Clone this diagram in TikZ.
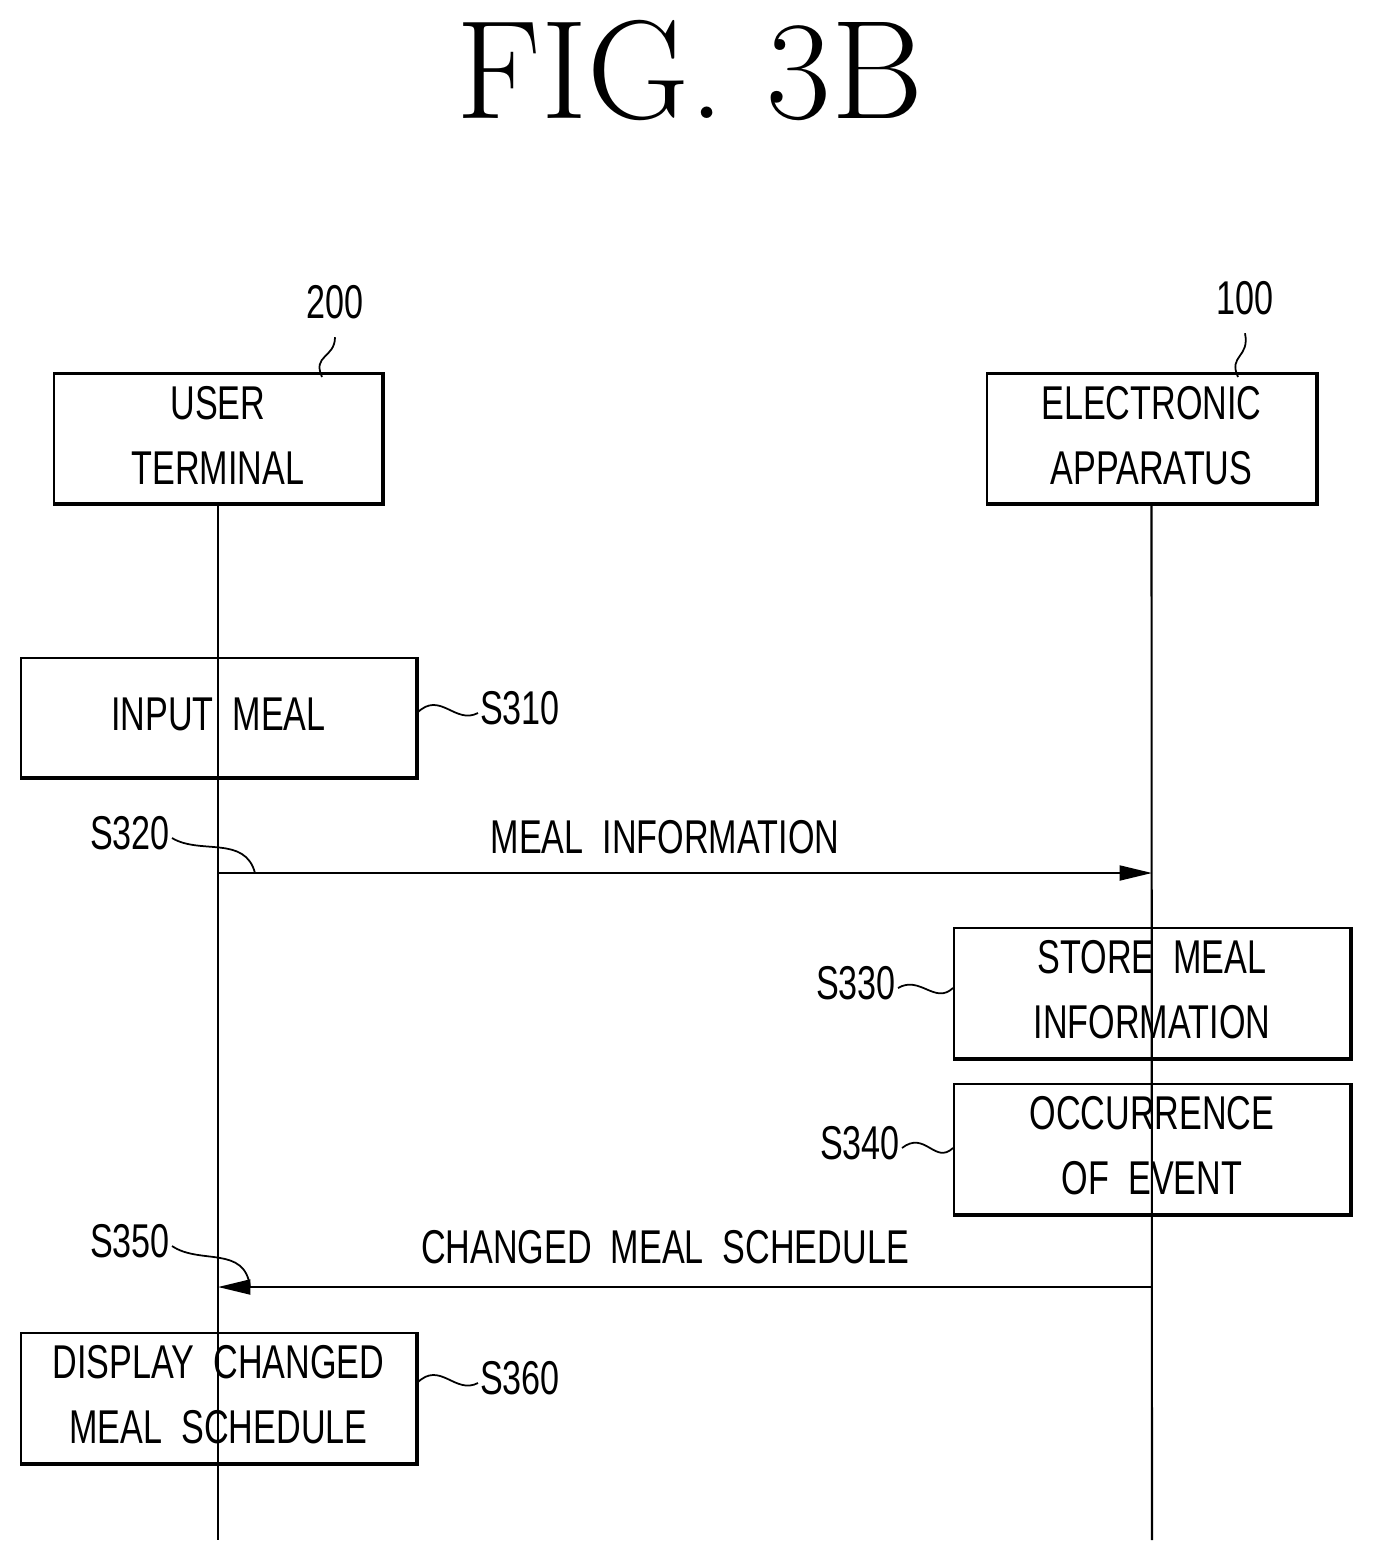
\documentclass[tikz,border=0pt]{standalone}
\usepackage{fontspec}
\setsansfont{Liberation Sans}
\usetikzlibrary{arrows.meta,positioning,calc}
\newcommand{\narrow}[1]{\scalebox{0.72}[1]{\begin{tabular}{@{}c@{}}#1\end{tabular}}}
\tikzset{
  box/.style={draw, line width=1.2pt, minimum height=2.38cm, inner sep=0pt,
    font=\sffamily\fontsize{27}{37}\selectfont},
  tag/.style={font=\sffamily\fontsize{27}{32}\selectfont, inner sep=1pt},
  msg/.style={line width=1.2pt, -{Triangle[length=0.65cm, width=0.3cm]}},
}
% draws a box with its heavier bottom/right shadow
\newcommand{\shbox}[5]{%
  \node[box, minimum width=#4cm] (#1) at (#2,#3) {\narrow{#5}};
  \draw[line width=2.2pt] ($(#1.south west)+(0.14,-0.05)$) -- ($(#1.south east)+(0.05,-0.05)$)
    -- ($(#1.north east)+(0.05,-0.14)$);}
\begin{document}
\begin{tikzpicture}[x=0.02cm, y=-0.02cm]
  \useasboundingbox (0,0) rectangle (1374,1563);

  % Title
  \node[font=\fontsize{80}{90}\selectfont] (title) at (690,70) {FIG.\ 3B};

  % Entities
  \shbox{ut}{218}{438.5}{6.56}{USER\\TERMINAL}
  \shbox{ea}{1151.5}{438.5}{6.58}{ELECTRONIC\\APPARATUS}
  \node[tag] (n200) at (335,307) {\narrow{200}};
  \node[tag] (n100) at (1245,303) {\narrow{100}};
  \draw[line width=1pt] (322,377) .. controls (312,355) and (335,358) .. (n200.south);
  \draw[line width=1pt] (1238,377) .. controls (1228,355) and (1250,358) .. (n100.south);

  % Lifelines
  \coordinate (utend) at (218,1540);
  \coordinate (eaend) at (1152,1540);
  \draw[line width=1.2pt] (ut.south) -- (utend);
  \draw[line width=1.2pt] (ea.south) -- (eaend);

  % Steps
  \shbox{s310}{218.5}{717.5}{7.9}{INPUT\ \ MEAL}
  \shbox{s330}{1152}{993}{7.92}{STORE\ \ MEAL\\INFORMATION}
  \shbox{s340}{1152}{1149}{7.92}{OCCURRENCE\\OF\ \ EVENT}
  \shbox{s360}{218.5}{1398}{7.9}{DISPLAY\ \ CHANGED\\MEAL\ \ SCHEDULE}

  \node[tag, anchor=west] (t310) at (478,713) {\narrow{S310}};
  \node[tag, anchor=east] (t330) at (898,988) {\narrow{S330}};
  \node[tag, anchor=east] (t340) at (902,1148) {\narrow{S340}};
  \node[tag, anchor=west] (t360) at (478,1383) {\narrow{S360}};
  \draw[line width=1pt] (s310.east |- t310) .. controls (440,690) and (455,725) .. (t310.west);
  \draw[line width=1pt] (s360.east |- t360) .. controls (440,1360) and (455,1395) .. (t360.west);
  \draw[line width=1pt] (t330.east) .. controls (920,975) and (935,1005) .. (s330.west |- t330);
  \draw[line width=1pt] (t340.east) .. controls (925,1130) and (935,1165) .. (s340.west |- t340);

  % Messages
  \coordinate (m1a) at (218,873);
  \coordinate (m1b) at (1152,873);
  \coordinate (m2a) at (1152,1287);
  \coordinate (m2b) at (218,1287);
  \draw[msg] (m1a) -- (m1b);
  \draw[msg] (m2a) -- (m2b);
  \node[tag] (l1) at (665,842) {\narrow{MEAL\ \ INFORMATION}};
  \node[tag] (l2) at (665,1252) {\narrow{CHANGED\ \ MEAL\ \ SCHEDULE}};

  \node[tag, anchor=east] (t320) at (172,838) {\narrow{S320}};
  \node[tag, anchor=east] (t350) at (172,1246) {\narrow{S350}};
  \draw[line width=1pt] (t320.east) .. controls (200,855) and (245,835) .. (255,873);
  \draw[line width=1pt] (t350.east) .. controls (200,1265) and (245,1245) .. (250,1287);
\end{tikzpicture}
\end{document}
